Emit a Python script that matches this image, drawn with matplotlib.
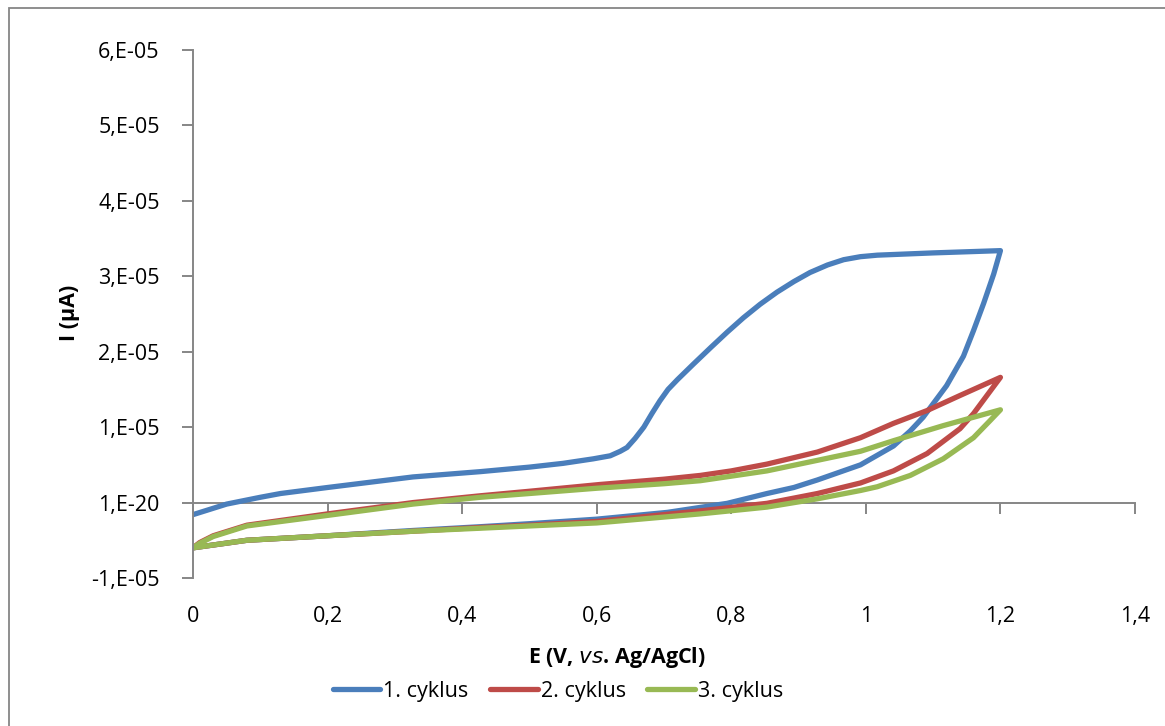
import matplotlib
matplotlib.use("Agg")
import matplotlib.pyplot as plt
from matplotlib.patches import Rectangle
import numpy as np

plt.rcParams['font.family'] = ['Open Sans', 'DejaVu Sans']

SCALE = 1e-5

# Cycle 1 (blue)
c1_E_fwd = [0, 0.05, 0.1, 0.13, 0.2, 0.327, 0.427, 0.5, 0.55, 0.595, 0.62, 0.635, 0.645, 0.657,
            0.67, 0.682, 0.694, 0.706, 0.72, 0.743, 0.77, 0.794, 0.818, 0.843, 0.868, 0.893,
            0.917, 0.943, 0.967, 0.992, 1.017, 1.1, 1.2]
c1_I_fwd = [-0.16, -0.02, 0.07, 0.12, 0.2, 0.34, 0.41, 0.47, 0.52, 0.58, 0.62, 0.68, 0.73, 0.85,
            1.0, 1.18, 1.35, 1.5, 1.63, 1.83, 2.06, 2.26, 2.45, 2.63, 2.79, 2.93,
            3.05, 3.15, 3.22, 3.26, 3.28, 3.31, 3.34]
c1_E_rev = [1.2, 1.19, 1.175, 1.16, 1.145, 1.12, 1.1, 1.085, 1.066, 1.041, 0.992, 0.928, 0.893,
            0.853, 0.794, 0.705, 0.6, 0.5, 0.427, 0.327, 0.2, 0.08, 0]
c1_I_rev = [3.34, 3.03, 2.64, 2.28, 1.94, 1.55, 1.31, 1.13, 0.95, 0.75, 0.5, 0.3, 0.2,
            0.12, -0.01, -0.13, -0.22, -0.28, -0.32, -0.37, -0.44, -0.5, -0.6]

# Cycle 2 (red)
c2_E_fwd = [0, 0.01, 0.03, 0.08, 0.2, 0.327, 0.427, 0.5, 0.605, 0.7, 0.754, 0.8, 0.853,
            0.928, 0.992, 1.041, 1.091, 1.14, 1.2]
c2_I_fwd = [-0.6, -0.53, -0.44, -0.3, -0.15, 0.0, 0.09, 0.15, 0.24, 0.31, 0.36, 0.42, 0.51,
            0.67, 0.86, 1.05, 1.22, 1.42, 1.66]
c2_E_rev = [1.2, 1.185, 1.16, 1.14, 1.091, 1.041, 0.992, 0.928, 0.853, 0.754, 0.6,
            0.5, 0.427, 0.327, 0.2, 0.08, 0]
c2_I_rev = [1.66, 1.48, 1.18, 0.98, 0.65, 0.42, 0.26, 0.12, -0.01, -0.11, -0.25,
            -0.3, -0.33, -0.38, -0.44, -0.5, -0.6]

# Cycle 3 (green)
c3_E_fwd = [0, 0.01, 0.03, 0.08, 0.2, 0.327, 0.427, 0.5, 0.6, 0.7, 0.754, 0.8, 0.853,
            0.928, 0.992, 1.041, 1.115, 1.2]
c3_I_fwd = [-0.6, -0.54, -0.45, -0.31, -0.17, -0.02, 0.07, 0.12, 0.19, 0.25, 0.29, 0.35, 0.42,
            0.56, 0.68, 0.82, 1.02, 1.23]
c3_E_rev = [1.2, 1.185, 1.16, 1.115, 1.066, 1.017, 0.992, 0.928, 0.853, 0.754, 0.6, 0.5,
            0.427, 0.327, 0.2, 0.08, 0]
c3_I_rev = [1.23, 1.09, 0.86, 0.58, 0.36, 0.21, 0.16, 0.05, -0.06, -0.15, -0.27, -0.31,
            -0.34, -0.38, -0.44, -0.5, -0.6]

series_labels = ["1. cyklus", "2. cyklus", "3. cyklus"]
series_colors = ["#4A7EBB", "#BE4B48", "#98B954"]

x_ticks = [0, 0.2, 0.4, 0.6, 0.8, 1.0, 1.2, 1.4]
x_tick_labels = ["0", "0,2", "0,4", "0,6", "0,8", "1", "1,2", "1,4"]
y_ticks = [-1e-5, 1e-20, 1e-5, 2e-5, 3e-5, 4e-5, 5e-5, 6e-5]
y_tick_labels = ["-1,E-05", "1,E-20", "1,E-05", "2,E-05", "3,E-05", "4,E-05", "5,E-05", "6,E-05"]

W, H = 1165, 726
fig = plt.figure(figsize=(W / 100, H / 100), dpi=100)
fig.patch.set_facecolor("white")

# chart border (only top/left visible in the crop)
fig.patches.append(Rectangle((9 / W, -0.05), 1.2, 1 - 8 / H + 0.05, transform=fig.transFigure,
                             fill=False, edgecolor="#868686", linewidth=1.3))

left, right, top, bottom = 193 / W, 1135 / W, 1 - 50 / H, 1 - 578 / H
ax = fig.add_axes([left, bottom, right - left, top - bottom])

data = [
    (c1_E_fwd + c1_E_rev, c1_I_fwd + c1_I_rev),
    (c2_E_fwd + c2_E_rev, c2_I_fwd + c2_I_rev),
    (c3_E_fwd + c3_E_rev, c3_I_fwd + c3_I_rev),
]
handles = []
for (E, I), lab, col in zip(data, series_labels, series_colors):
    h, = ax.plot(E, np.array(I) * SCALE, color=col, lw=3.8, solid_capstyle="round",
                 solid_joinstyle="round", label=lab)
    handles.append(h)

ax.set_xlim(0, 1.4)
ax.set_ylim(-1e-5, 6e-5)

gray = "#868686"
for s in ["top", "right", "bottom"]:
    ax.spines[s].set_visible(False)
ax.spines["left"].set_color(gray)
ax.spines["left"].set_linewidth(1.4)

ax.set_yticks(y_ticks)
ax.set_yticklabels(y_tick_labels)
ax.tick_params(axis="y", direction="out", length=8, width=1.4, color=gray, pad=16,
               labelsize=15.5, labelcolor="black")
ax.set_xticks(x_ticks)
ax.set_xticklabels(x_tick_labels)
ax.tick_params(axis="x", length=0, pad=20, labelsize=15.5, labelcolor="black")

# horizontal axis line at I = 0 with tick marks
sec = ax.secondary_xaxis(1 / 7)
sec.set_xticks(x_ticks)
sec.set_xticklabels([])
sec.tick_params(axis="x", direction="out", length=8, width=1.4, color=gray)
sec.spines["bottom"].set_color(gray)
sec.spines["bottom"].set_linewidth(1.4)

fig.text(617 / W, 1 - 657 / H, "E (V, $\\mathbf{\\it{vs}}$. Ag/AgCl)", ha="center", va="center",
         fontsize=15.5, fontweight="bold")
fig.text(70 / W, 1 - 313 / H, "I (µA)", ha="center", va="center", rotation=90,
         fontsize=15.5, fontweight="bold")

leg = fig.legend(handles=handles, loc="center", bbox_to_anchor=(558 / W, 1 - 691 / H),
                 ncol=3, frameon=False, fontsize=15.5, handlelength=2.2, handletextpad=0.15,
                 columnspacing=1.0)

fig.savefig("out.png", dpi=100)
